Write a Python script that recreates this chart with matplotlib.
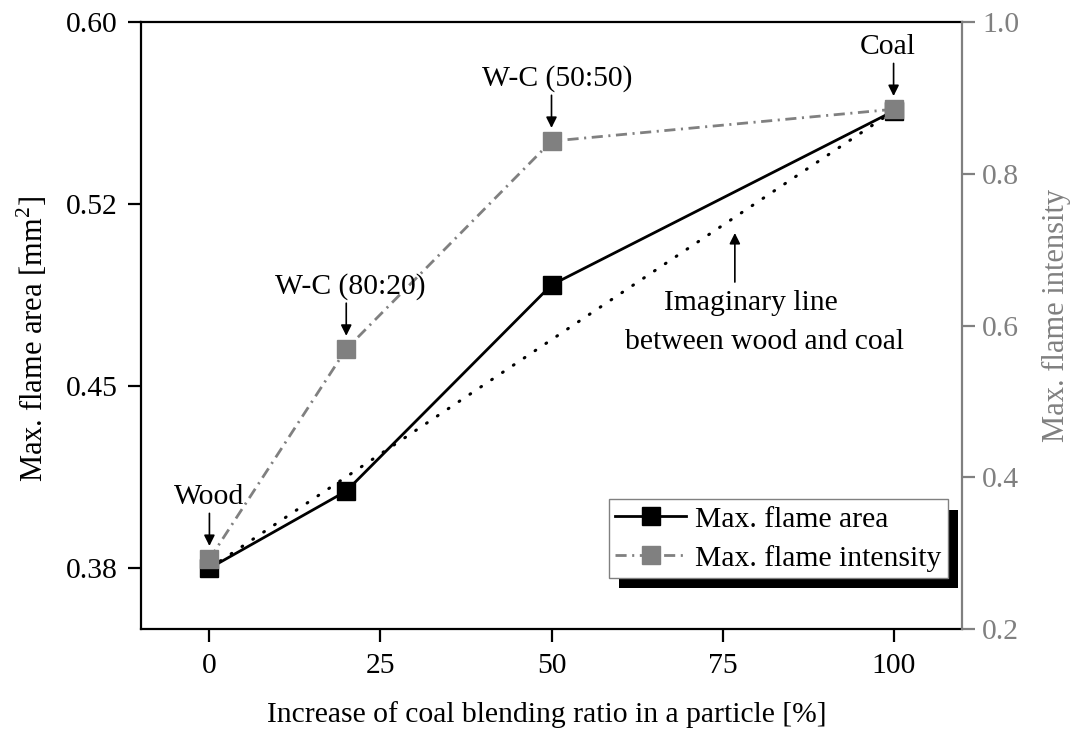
import matplotlib
matplotlib.use("Agg")
import matplotlib.pyplot as plt
import matplotlib.patheffects as pe

plt.rcParams["font.family"] = ["Liberation Serif", "DejaVu Serif"]
plt.rcParams["mathtext.fontset"] = "custom"
plt.rcParams["mathtext.rm"] = "Liberation Serif"
plt.rcParams["lines.scale_dashes"] = False

# Coal blending ratio in a particle [%]
blend_ratio = [0, 20, 50, 100]
# Maximum flame area [mm^2] (left axis)
flame_area = [0.375, 0.4068, 0.4917, 0.5633]
# Maximum flame intensity (right axis)
flame_intensity = [0.292, 0.569, 0.843, 0.885]

x_ticks = [0, 25, 50, 75, 100]
area_ticks = [0.375, 0.45, 0.525, 0.60]
area_tick_labels = ["0.38", "0.45", "0.52", "0.60"]
intensity_ticks = [0.2, 0.4, 0.6, 0.8, 1.0]

point_labels = ["Wood", "W-C (80:20)", "W-C (50:50)", "Coal"]

GRAY = "#808080"
FS = 21.3
FS_YLABEL = 22

fig = plt.figure(figsize=(10.72, 7.35), dpi=100)
W, H = 1072, 735
ax = fig.add_axes([141 / W, 1 - 629 / H, (962 - 141) / W, (629 - 22) / H])
ax2 = ax.twinx()

# Straight reference line between pure wood and pure coal
ax.plot([blend_ratio[0], blend_ratio[-1]], [flame_area[0], flame_area[-1]],
        color="black", lw=2.2, linestyle=(0, (0.6, 8.8)),
        dash_capstyle="round", zorder=2)

l1, = ax.plot(blend_ratio, flame_area, color="black", lw=2.0, marker="s",
              markersize=13.5, markerfacecolor="black", markeredgecolor="black",
              label="Max. flame area", zorder=3)
l2, = ax2.plot(blend_ratio, flame_intensity, color=GRAY, lw=2.0,
               linestyle=(0, (8, 4, 1.5, 4)), marker="s", markersize=13.5,
               markerfacecolor=GRAY, markeredgecolor=GRAY,
               label="Max. flame intensity", zorder=3)

ax.set_xlim(-10, 110)
ax.set_ylim(0.35, 0.60)
ax2.set_ylim(0.2, 1.0)

ax.set_xticks(x_ticks)
ax.set_xticklabels([str(t) for t in x_ticks])
ax.set_yticks(area_ticks)
ax.set_yticklabels(area_tick_labels)
ax2.set_yticks(intensity_ticks)
ax2.set_yticklabels([f"{t:.1f}" for t in intensity_ticks])

for a in (ax, ax2):
    for s in a.spines.values():
        s.set_linewidth(1.6)
ax.spines["right"].set_visible(False)
ax2.spines["left"].set_visible(False)
ax2.spines["bottom"].set_visible(False)
ax2.spines["top"].set_visible(False)
ax2.spines["right"].set_color(GRAY)

ax.tick_params(axis="x", direction="out", length=9.5, width=1.6, pad=8,
               labelsize=FS, colors="black")
ax.tick_params(axis="y", direction="out", length=9.5, width=1.6, pad=7,
               labelsize=FS, colors="black")
ax2.tick_params(axis="y", direction="out", length=9.5, width=1.6, pad=5,
                labelsize=FS, colors=GRAY)

ax.set_xlabel("Increase of coal blending ratio in a particle [%]", fontsize=FS,
              labelpad=16)
ax.xaxis.label.set_x(0.494)
ax.set_ylabel(r"Max. flame area [mm$^{\mathregular{2}}$]", fontsize=FS_YLABEL,
              labelpad=12)
ax.yaxis.label.set_y(0.478)
ax2.set_ylabel("Max. flame intensity", fontsize=FS_YLABEL, color=GRAY,
               labelpad=16)
ax2.yaxis.label.set_y(0.517)

# Point annotations with short down arrows
arrow_kw = dict(arrowstyle="-|>", color="black", lw=1.2, mutation_scale=16,
                shrinkA=0, shrinkB=0)
text_dx = [0, 3, 4, -4]
for xi, yi, lab, dx in zip(blend_ratio, flame_intensity, point_labels, text_dx):
    ax2.annotate("", xy=(xi, yi), xycoords="data",
                 xytext=(0, 33), textcoords="offset points",
                 arrowprops=dict(arrow_kw, shrinkB=9.5))
    ax2.annotate(lab, xy=(xi, yi), xycoords="data",
                 xytext=(dx, 45), textcoords="offset points",
                 ha="center", va="center", fontsize=FS)

# Label for the straight reference line
ax.annotate("", xy=(76.8, 0.5131), xycoords="data",
            xytext=(76.8, 0.4929), textcoords="data", arrowprops=arrow_kw)
ax.text(79.2, 0.4843, "Imaginary line", ha="center", va="center", fontsize=FS)
ax.text(81.2, 0.4682, "between wood and coal", ha="center", va="center",
        fontsize=FS)

leg = ax2.legend(handles=[l1, l2], loc="lower right",
                 bbox_to_anchor=(0.983, 0.084), borderaxespad=0,
                 fontsize=FS, frameon=True, fancybox=False, handlelength=2.4,
                 handletextpad=0.3, borderpad=0.22, labelspacing=0.4)
frame = leg.get_frame()
frame.set_edgecolor(GRAY)
frame.set_linewidth(1.0)
frame.set_facecolor("white")
frame.set_alpha(1)
frame.set_path_effects([
    pe.SimplePatchShadow(offset=(7.5, -7.5), shadow_rgbFace="black", alpha=1.0,
                         rho=1.0),
    pe.Normal(),
])

fig.savefig("out.png", dpi=100)
